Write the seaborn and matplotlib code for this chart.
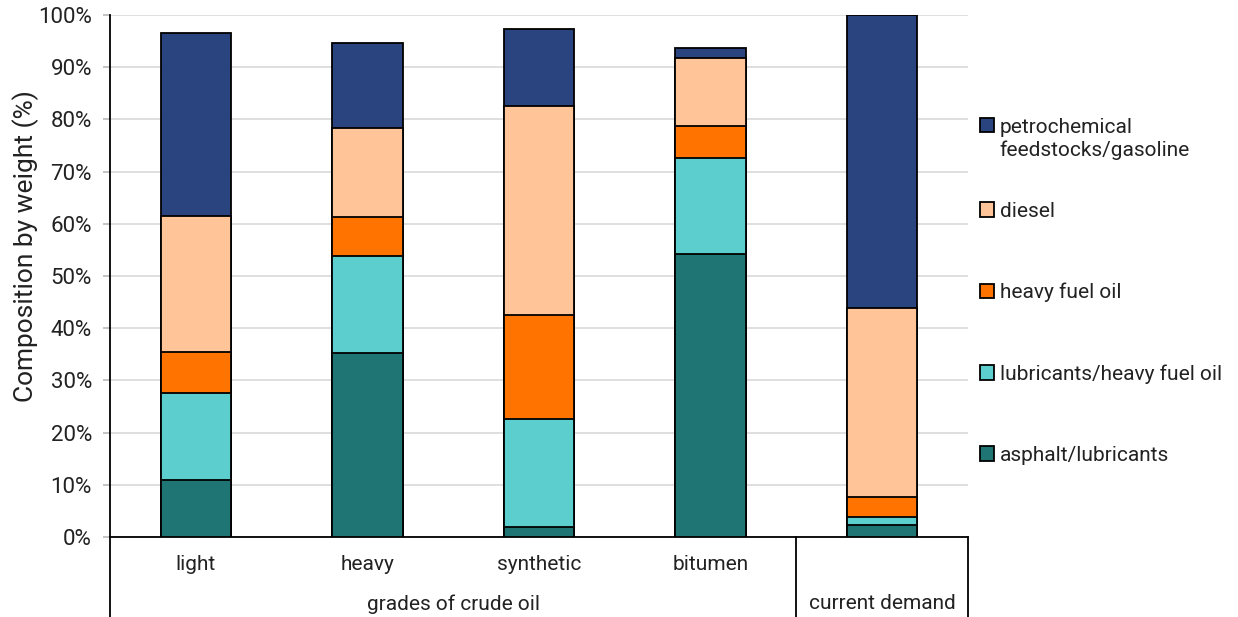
import matplotlib
matplotlib.use("Agg")
import matplotlib.pyplot as plt
import seaborn as sns
import numpy as np
import pandas as pd
from matplotlib.patches import Patch
from matplotlib.transforms import blended_transform_factory

categories = ["light", "heavy", "synthetic", "bitumen", "current demand"]
tick_labels = ["light", "heavy", "synthetic", "bitumen", ""]
group_labels = ["grades of crude oil", "current demand"]

asphalt = [11.0, 35.2, 1.9, 54.2, 2.3]
lubricants = [16.6, 18.6, 20.7, 18.4, 1.5]
heavy_fuel = [7.8, 7.5, 19.9, 6.1, 3.9]
diesel = [26.1, 17.1, 40.1, 13.1, 36.2]
petro = [35.1, 16.2, 14.7, 1.9, 56.1]

series_names = ["asphalt/lubricants", "lubricants/heavy fuel oil", "heavy fuel oil",
                "diesel", "petrochemical\nfeedstocks/gasoline"]
series_values = [asphalt, lubricants, heavy_fuel, diesel, petro]
colors = ["#1F7574", "#5CCECE", "#FF7300", "#FFC599", "#2A4480"]

sns.set_theme(style="white")
plt.rcParams["font.family"] = ["Roboto", "DejaVu Sans"]
TXT = "#222222"
FS = 15

fig = plt.figure(figsize=(12.38, 6.17), dpi=100)
ax = fig.add_axes([110 / 1238, 80 / 617, 858 / 1238, 522 / 617])

cum = np.cumsum(np.array(series_values), axis=0)
# draw from top layer (largest cumulative) to bottom
for i in range(len(series_values) - 1, -1, -1):
    df = pd.DataFrame({"cat": categories, "val": cum[i]})
    sns.barplot(data=df, x="cat", y="val", order=categories, color=colors[i],
                saturation=1, width=0.41, edgecolor="black", linewidth=1.3,
                ax=ax, zorder=3)

ax.set_ylim(0, 100)
ax.set_xlim(-0.5, 4.5)
ax.set_yticks(np.arange(0, 101, 10))
ax.set_yticklabels([f"{v}%" for v in range(0, 101, 10)], fontsize=16, color=TXT)
ax.yaxis.grid(True, color="#D9D9D9", linewidth=1.2, zorder=0)
ax.set_axisbelow(True)
ax.tick_params(axis="y", length=5, color="#BBBBBB", left=True, pad=8)
ax.set_ylabel("Composition by weight (%)", fontsize=19, color=TXT)
ax.yaxis.set_label_coords(-0.083, 0.557)

ax.set_xticks(range(len(categories)))
ax.set_xticklabels(tick_labels, fontsize=FS, color=TXT)
ax.tick_params(axis="x", length=0, pad=13)
ax.set_xlabel("")

for s in ["top", "right"]:
    ax.spines[s].set_visible(False)
for s in ["left", "bottom"]:
    ax.spines[s].set_color("black")
    ax.spines[s].set_linewidth(1.3)

# multi-level axis lines and group labels
trans = blended_transform_factory(ax.transData, ax.transAxes)
for xpos in [-0.5, 3.5, 4.5]:
    ax.plot([xpos, xpos], [0, -0.16], color="black", linewidth=1.3,
            transform=trans, clip_on=False)
ax.text(1.5, -0.128, group_labels[0], transform=trans, ha="center", va="center",
        fontsize=FS, color=TXT)
ax.text(4.0, -0.128, group_labels[1], transform=trans, ha="center", va="center",
        fontsize=FS, color=TXT)

# legend: top (two-line) entry, then the four single-line entries
h_top = [Patch(facecolor=colors[4], edgecolor="black", linewidth=1.3)]
leg1 = ax.legend(h_top, [series_names[4]], loc="center left",
                 bbox_to_anchor=(1.004, 0.763), frameon=False, fontsize=FS,
                 handlelength=0.7, handleheight=0.7, handletextpad=0.25,
                 borderaxespad=0)
try:
    leg1._legend_handle_box.get_children()[0].get_children()[0].align = "top"
except Exception:
    pass
for t in leg1.get_texts():
    t.set_color(TXT)
ax.add_artist(leg1)

h_rest = [Patch(facecolor=colors[i], edgecolor="black", linewidth=1.3)
          for i in range(3, -1, -1)]
l_rest = [series_names[i] for i in range(3, -1, -1)]
leg2 = ax.legend(h_rest, l_rest, loc="center left", bbox_to_anchor=(1.004, 0.39),
                 frameon=False, fontsize=FS, handlelength=0.7, handleheight=0.7,
                 handletextpad=0.25, labelspacing=2.98, borderaxespad=0)
for t in leg2.get_texts():
    t.set_color(TXT)

fig.savefig("out.png", dpi=100)
